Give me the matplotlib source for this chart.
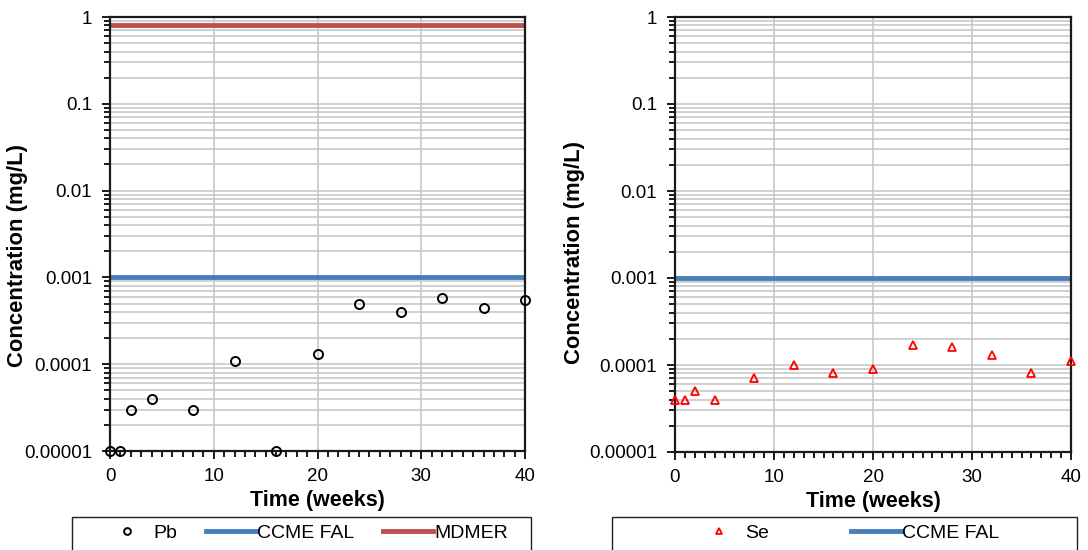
import matplotlib.pyplot as plt
import numpy as np
from matplotlib.patches import Rectangle
from matplotlib.ticker import LogLocator, FixedLocator, MultipleLocator, NullFormatter

weeks = [0, 1, 2, 4, 8, 12, 16, 20, 24, 28, 32, 36, 40]
pb = [1e-5, 1e-5, 3e-5, 4e-5, 3e-5, 1.1e-4, 1e-5, 1.3e-4, 5e-4, 4e-4, 5.8e-4, 4.5e-4, 5.5e-4]
se = [4e-5, 4e-5, 5e-5, 4e-5, 7e-5, 1e-4, 8e-5, 9e-5, 1.7e-4, 1.6e-4, 1.3e-4, 8e-5, 1.1e-4]
ccme_fal = 0.001
mdmer = 0.8
ytick_vals = [1e-5, 1e-4, 1e-3, 1e-2, 1e-1, 1]
ytick_labels = ["0.00001", "0.0001", "0.001", "0.01", "0.1", "1"]

blue = "#4A7EBB"
red = "#C0504D"

plt.rcParams["font.family"] = ["Liberation Sans", "DejaVu Sans"]

W, H = 1088, 550
fig = plt.figure(figsize=(W / 100, H / 100), dpi=100)


def px_axes(x0, x1, y0, y1):
    # pixel box -> figure fractions
    return fig.add_axes([x0 / W, 1 - y1 / H, (x1 - x0) / W, (y1 - y0) / H])


ax1 = px_axes(110, 525, 17, 451)
ax2 = px_axes(675, 1071, 17, 452)


def style(ax):
    ax.set_yscale("log")
    ax.set_ylim(1e-5, 1)
    ax.set_xlim(0, 40)
    ax.yaxis.set_major_locator(FixedLocator(ytick_vals))
    ax.set_yticklabels(ytick_labels)
    ax.yaxis.set_minor_locator(LogLocator(base=10, subs=np.arange(2, 10)))
    ax.yaxis.set_minor_formatter(NullFormatter())
    ax.xaxis.set_major_locator(MultipleLocator(10))
    ax.xaxis.set_minor_locator(MultipleLocator(1))
    ax.grid(True, which="major", color="#c8c8c8", lw=1.2)
    ax.grid(True, which="minor", axis="y", color="#c8c8c8", lw=1.2)
    ax.set_axisbelow(True)
    for s in ax.spines.values():
        s.set_linewidth(1.6)
        s.set_color("#1a1a1a")
    ax.tick_params(which="both", direction="out", width=1.4, color="#1a1a1a", labelsize=13.5)
    ax.tick_params(which="major", length=6, pad=6)
    ax.tick_params(axis="y", which="major", pad=7)
    ax.tick_params(which="minor", length=4)
    ax.set_xlabel("Time (weeks)", fontsize=15.5, fontweight="bold", labelpad=4)
    ax.set_ylabel("Concentration (mg/L)", fontsize=15.8, fontweight="bold")


style(ax1)
style(ax2)
ax1.yaxis.set_label_coords(-0.1976, 0.4516)
ax2.yaxis.set_label_coords(-0.2273, 0.4585)

ax1.plot(weeks, pb, "o", mfc="none", mec="black", mew=1.4, ms=6.5, clip_on=False, zorder=5, label="Pb")
ax1.axhline(ccme_fal, color=blue, lw=3.5, label="CCME FAL")
ax1.axhline(mdmer, color=red, lw=3.5, label="MDMER")

ax2.plot(weeks, se, "^", mfc="none", mec="red", mew=1.3, ms=6, clip_on=False, zorder=5, label="Se")
ax2.axhline(ccme_fal, color=blue, lw=3.5, label="CCME FAL")

# legend boxes (frame runs off the bottom of the image)
for x0, x1 in [(72, 531), (612, 1077)]:
    fig.patches.append(Rectangle((x0 / W, -0.05), (x1 - x0) / W, 0.05 + 1 - 517 / H,
                                 transform=fig.transFigure, fill=False, ec="#222222", lw=1.0))

ax1.legend(loc="center", bbox_to_anchor=(305 / W, 1 - 533 / H), bbox_transform=fig.transFigure,
           ncol=3, fontsize=14, frameon=False, handlelength=2.6, handletextpad=0.06,
           columnspacing=1.44, borderaxespad=0, borderpad=0, markerscale=0.75)
ax2.legend(loc="center", bbox_to_anchor=(846.5 / W, 1 - 533 / H), bbox_transform=fig.transFigure,
           ncol=2, fontsize=14, frameon=False, handlelength=2.6, handletextpad=0.06,
           columnspacing=4.2, borderaxespad=0, borderpad=0, markerscale=0.8)

fig.savefig("out.png", dpi=100)
